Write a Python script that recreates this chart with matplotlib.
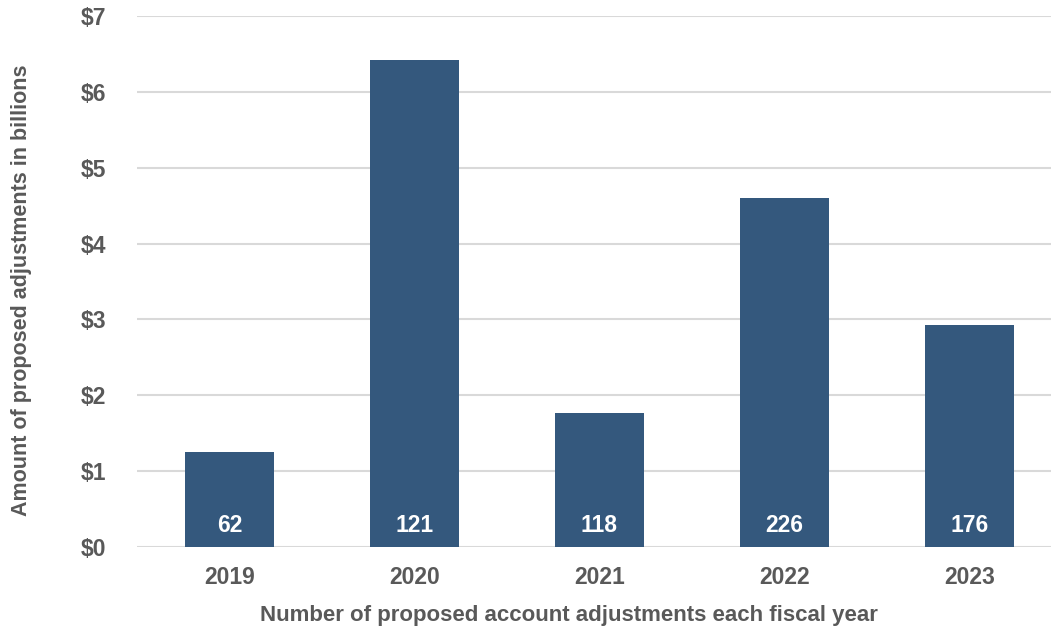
import matplotlib.pyplot as plt
import numpy as np

years = ["2019", "2020", "2021", "2022", "2023"]
amounts = [1.25, 6.42, 1.76, 4.60, 2.93]  # billions of dollars
counts = [62, 121, 118, 226, 176]
y_ticks = [0, 1, 2, 3, 4, 5, 6, 7]

bar_color = "#34587d"
text_color = "#595959"
grid_color = "#d9d9d9"

plt.rcParams['font.family'] = ['Liberation Sans', 'DejaVu Sans']

fig = plt.figure(figsize=(10.51, 6.3), dpi=100)
ax = fig.add_axes([137 / 1051, 1 - 547 / 630, 925 / 1051, 531 / 630])

x = np.arange(len(years))
ax.bar(x, amounts, width=0.48, color=bar_color, zorder=3)

for xi, c in zip(x, counts):
    ax.text(xi, 0.29, str(c), ha="center", va="center", color="white",
            fontsize=16.5, fontweight="bold", zorder=4)

ax.set_xlim(-0.5, 4.5)
ax.set_ylim(0, 7)
ax.set_yticks(y_ticks)
ax.set_yticklabels([f"${v}" for v in y_ticks])
ax.set_xticks(x)
ax.set_xticklabels(years)

ax.grid(axis="y", color=grid_color, linewidth=1.5, zorder=0)
ax.set_axisbelow(True)
for s in ax.spines.values():
    s.set_visible(False)
ax.tick_params(length=0, colors=text_color, labelsize=16.5)
ax.tick_params(axis="y", pad=22)
ax.tick_params(axis="x", pad=14)
for lbl in ax.get_xticklabels() + ax.get_yticklabels():
    lbl.set_fontweight("bold")

fig.text(569 / 1051, 1 - 616 / 630,
         "Number of proposed account adjustments each fiscal year",
         ha="center", va="center", fontsize=16,
         fontweight="bold", color=text_color)
fig.text(22 / 1051, 1 - 290 / 630, "Amount of proposed adjustments in billions",
         rotation=90, ha="center", va="center", fontsize=15.5,
         fontweight="bold", color=text_color)

fig.savefig("out.png", dpi=100)
